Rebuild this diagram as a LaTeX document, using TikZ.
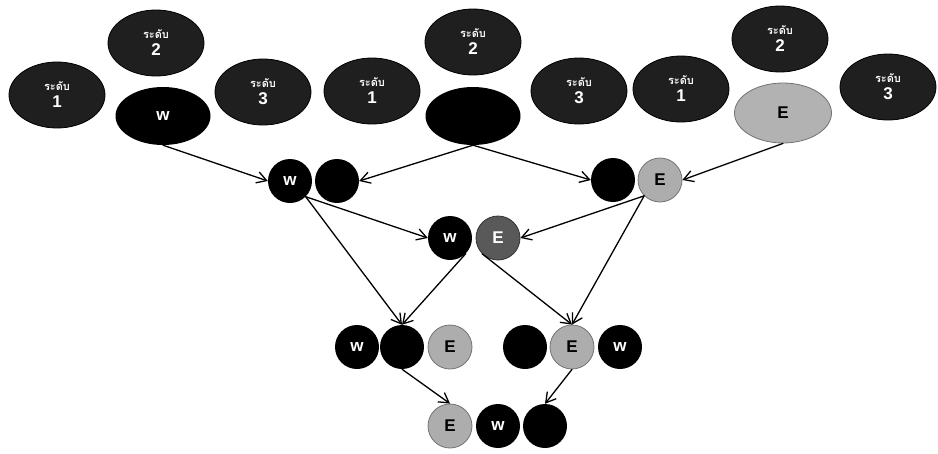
\documentclass[tikz,border=0pt]{standalone}
\usepackage{fontspec}
\setmainfont{Liberation Sans}
\newfontfamily\thaifont[Script=Thai]{Loma}
\usetikzlibrary{arrows.meta,shapes.geometric,positioning}

\newcommand{\lvltext}[1]{{\thaifont\fontsize{11}{11}\selectfont ระดับ}\\[0pt]#1}

\begin{document}
\begin{tikzpicture}[x=1pt,y=-1pt]
\tikzset{
  labelfont/.style={font=\bfseries\fontsize{17}{17}\selectfont},
  levelnode/.style={ellipse,fill=black!88,draw=black,line width=0.8pt,minimum width=96pt,minimum height=66pt,inner sep=0pt,text=white,align=center,labelfont},
  bigblack/.style={ellipse,fill=black,minimum width=95pt,minimum height=58pt,inner sep=0pt,text=white,labelfont},
  biggrey/.style={ellipse,fill=black!30,draw=black!55,line width=0.8pt,minimum width=97pt,minimum height=60pt,inner sep=0pt,labelfont},
  ballnode/.style={circle,fill=black,minimum size=44pt,inner sep=0pt,text=white,labelfont},
  greyball/.style={circle,fill=black!32,draw=black!55,line width=0.8pt,minimum size=44pt,inner sep=0pt,labelfont},
  darkball/.style={greyball,fill=black!65,draw=black!80,text=white},
  flow/.style={draw=black,line width=1.3pt,line cap=round,-{Straight Barb[length=3.4mm,width=4mm]}}
}
\useasboundingbox (0,0) rectangle (938,453);
% top row, first group
\node[levelnode] (n_l1a) at (57,95) {\lvltext{1}};
\node[levelnode] (n_l2a) at (156,43) {\lvltext{2}};
\node[bigblack] (n_wa) at (163,116) {w};
\node[levelnode] (n_l3a) at (263,92) {\lvltext{3}};
% top row, second group
\node[levelnode] (n_l1b) at (372,91) {\lvltext{1}};
\node[levelnode] (n_l2b) at (473,42) {\lvltext{2}};
\node[bigblack] (n_xb) at (473,116) {};
\node[levelnode] (n_l3b) at (579,91) {\lvltext{3}};
% top row, third group
\node[levelnode] (n_l1c) at (681,89) {\lvltext{1}};
\node[levelnode] (n_l2c) at (780,39) {\lvltext{2}};
\node[biggrey] (n_ec) at (783,113) {E};
\node[levelnode] (n_l3c) at (888,87) {\lvltext{3}};
% second row
\node[ballnode] (n_w1) at (290,181) {w};
\node[ballnode] (n_x1) at (337,181) {};
\node[ballnode] (n_x2) at (613,180) {};
\node[greyball] (n_e2) at (660,180) {E};
% third row
\node[ballnode] (n_w3) at (450,238) {w};
\node[darkball] (n_e3) at (498,238) {E};
% fourth row
\node[ballnode] (n_w4) at (357,347) {w};
\node[ballnode] (n_x4) at (402,347) {};
\node[greyball] (n_e4) at (450,347) {E};
\node[ballnode] (n_x5) at (525,347) {};
\node[greyball] (n_e5) at (572,347) {E};
\node[ballnode] (n_w5) at (620,347) {w};
% bottom row
\node[greyball] (n_e6) at (450,426) {E};
\node[ballnode] (n_w6) at (498,426) {w};
\node[ballnode] (n_x6) at (545,426) {};
% arrows
\draw[flow] (n_wa.south) -- (n_w1.west);
\draw[flow] (n_xb.south) -- (n_x1.east);
\draw[flow] (n_xb.south) -- (n_x2.west);
\draw[flow] (n_ec.south) -- (n_e2.east);
\draw[flow] (n_w1.south east) -- (n_w3.west);
\draw[flow] (n_e2.south west) -- (n_e3.east);
\draw[flow] (n_w1.south east) -- (n_x4.north);
\draw[flow] (n_w3.south east) -- (n_x4.north);
\draw[flow] (n_e3.south west) -- (n_e5.north);
\draw[flow] (n_e2.south west) -- (n_e5.north);
\draw[flow] (n_x4.south) -- (n_e6.north);
\draw[flow] (n_e5.south) -- (n_x6.north);
\end{tikzpicture}
\end{document}
